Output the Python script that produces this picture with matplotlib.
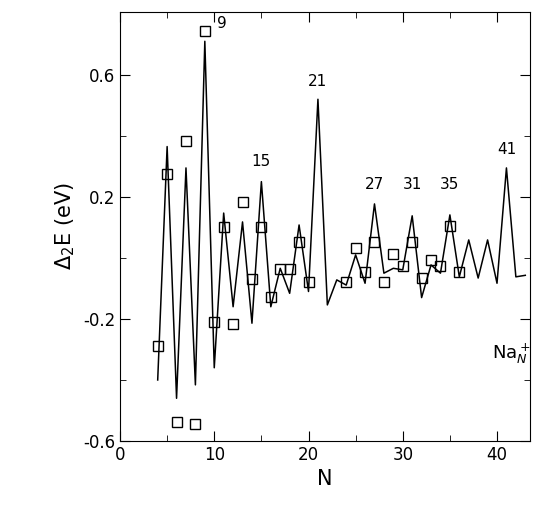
import matplotlib.pyplot as plt

N_theory = list(range(4, 44))
dE_theory = [-0.40, 0.365, -0.46, 0.295, -0.416, 0.71, -0.36, 0.147, -0.16, 0.118,
             -0.214, 0.25, -0.16, -0.034, -0.116, 0.108, -0.11, 0.52, -0.154, -0.072,
             -0.089, 0.01, -0.083, 0.177, -0.05, -0.034, -0.039, 0.138, -0.13, -0.023,
             -0.05, 0.141, -0.062, 0.059, -0.066, 0.059, -0.083, 0.295, -0.062, -0.057]

N_exp = [4, 5, 6, 7, 8, 9, 10, 11, 12, 13, 14, 15, 16, 17, 18, 19, 20,
         24, 25, 26, 27, 28, 29, 30, 31, 32, 33, 34, 35, 36]
dE_exp = [-0.289, 0.275, -0.537, 0.384, -0.545, 0.744, -0.21, 0.102, -0.217, 0.184,
          -0.068, 0.102, -0.127, -0.037, -0.037, 0.053, -0.078,
          -0.078, 0.033, -0.047, 0.053, -0.078, 0.013, -0.026, 0.053, -0.066,
          -0.007, -0.026, 0.105, -0.047]

magic = [9, 15, 21, 27, 31, 35, 41]
magic_pos = [(10.8, 0.745), (15.0, 0.29), (21.0, 0.555), (27.0, 0.215),
             (31.0, 0.215), (35.0, 0.215), (41.0, 0.33)]

fig = plt.figure(figsize=(5.46, 5.08), dpi=100)
ax = fig.add_axes([120 / 546, 67 / 508, 410 / 546, 429 / 508])

ax.plot(N_theory, dE_theory, color='black', lw=1.1)
ax.plot(N_exp, dE_exp, ls='none', marker='s', ms=7, mfc='none', mec='black', mew=1.0)

for lab, (x, y) in zip(magic, magic_pos):
    ax.text(x, y, str(lab), ha='center', va='bottom', fontsize=11)

ax.text(39.5, -0.33, r'Na$_N^+$', fontsize=13)

ax.set_xlim(0, 43.5)
ax.set_ylim(-0.6, 0.806)
ax.set_xticks([0, 10, 20, 30, 40])
ax.set_xticks([5, 15, 25, 35], minor=True)
ax.set_yticks([-0.6, -0.2, 0.2, 0.6])
ax.set_yticklabels(['-0.6', '-0.2', '0.2', '0.6'])
ax.set_yticks([-0.4, 0.0, 0.4], minor=True)
ax.tick_params(which='both', direction='in', top=True, right=True, labelsize=12)
ax.tick_params(which='major', length=7)
ax.tick_params(which='minor', length=4)
ax.set_xlabel('N', fontsize=15)
ax.set_ylabel(r'$\Delta_2$E (eV)', fontsize=15)

fig.savefig('out.png', dpi=100)
